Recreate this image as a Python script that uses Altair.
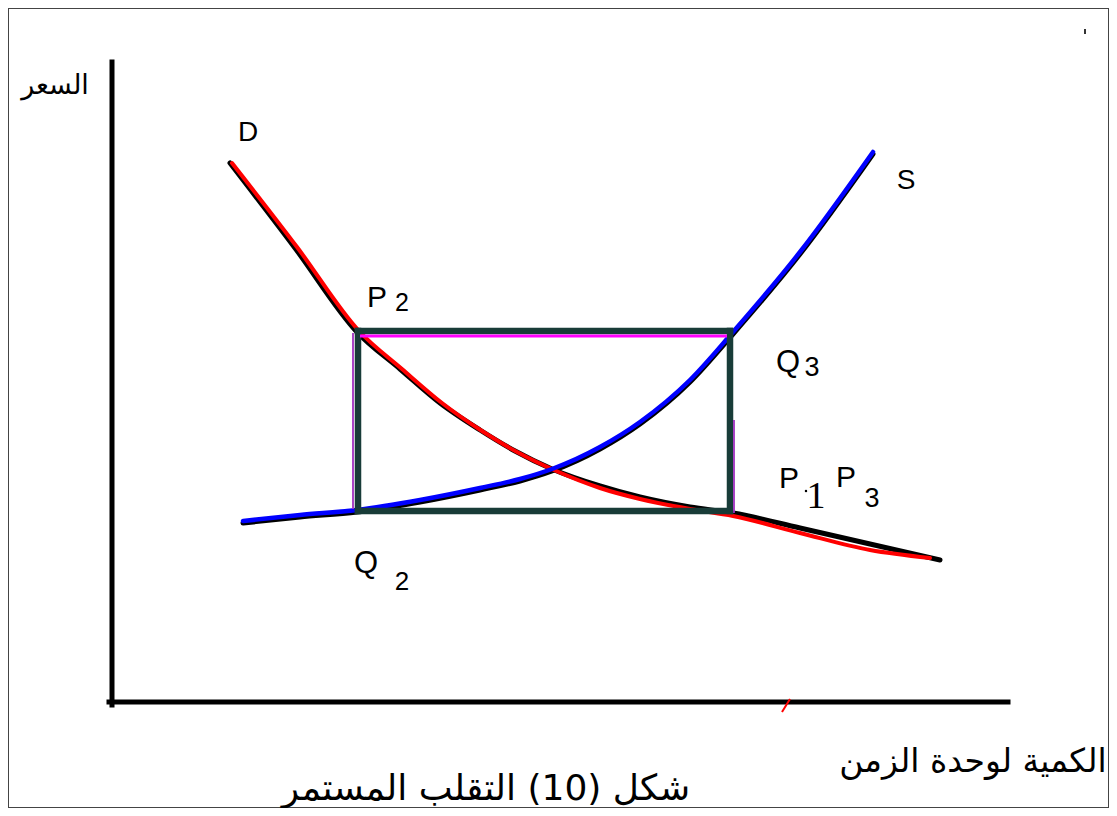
import altair as alt
import pandas as pd

# ---- data (quantity q, price p in diagram units) ----
d_black_q = [11.8, 18.3, 24.5, 28.8, 32.8, 36.8, 40.3, 44.0, 48.8, 52.8, 57.8, 62.1, 68.8, 75.8, 82.8]
d_black_p = [53.9, 45.4, 37.0, 33.3, 29.9, 27.2, 25.1, 23.3, 21.6, 20.5, 19.5, 18.9, 17.4, 15.8, 14.2]
d_red_q = [12.0, 18.5, 24.7, 29.0, 33.0, 37.0, 40.5, 44.2, 48.8, 52.8, 57.8, 62.1, 68.8, 75.8, 81.8]
d_red_p = [53.9, 45.5, 37.1, 33.3, 29.9, 27.1, 25.0, 23.2, 21.4, 20.3, 19.3, 18.6, 16.9, 15.2, 14.4]
s_q = [13.1, 18.8, 24.5, 30.8, 36.8, 40.8, 44.0, 48.8, 52.8, 57.8, 62.1, 68.8, 76.1]
s_p = [18.1, 18.7, 19.2, 20.2, 21.4, 22.3, 23.3, 25.5, 28.0, 32.2, 37.0, 45.0, 55.0]
s_black_p = [17.9, 18.5, 19.0, 20.0, 21.2, 22.1, 23.1, 25.3, 27.8, 32.0, 36.8, 44.8, 54.8]

rect_q = [24.6, 61.8]
rect_p = [19.1, 37.1]

axis_q_end = 89.6
axis_p_end = 64.0

XD = [-10.4, 99.7]
YD = [-10.6, 69.4]

xs = alt.Scale(domain=XD)
ys = alt.Scale(domain=YD)


def line(qs, ps, color, width):
    df = pd.DataFrame({"q": qs, "p": ps, "o": list(range(len(qs)))})
    return alt.Chart(df).mark_line(color=color, strokeWidth=width, strokeCap="round",
                                   interpolate="monotone").encode(
        x=alt.X("q:Q", scale=xs, axis=None),
        y=alt.Y("p:Q", scale=ys, axis=None),
        order="o:Q")


def segs(rows, color, width, cap="square"):
    df = pd.DataFrame(rows, columns=["q", "q2", "p", "p2"])
    return alt.Chart(df).mark_rule(color=color, strokeWidth=width, strokeCap=cap).encode(
        x=alt.X("q:Q", scale=xs, axis=None), x2="q2:Q",
        y=alt.Y("p:Q", scale=ys, axis=None), y2="p2:Q")


def label(q, p, text, size, font="Liberation Sans", color="black", baseline="middle"):
    df = pd.DataFrame({"q": [q], "p": [p], "t": [text]})
    return alt.Chart(df).mark_text(fontSize=size, font=font, color=color,
                                   align="center", baseline=baseline).encode(
        x=alt.X("q:Q", scale=xs, axis=None),
        y=alt.Y("p:Q", scale=ys, axis=None),
        text="t:N")


def dot(q, p, size):
    df = pd.DataFrame({"q": [q], "p": [p]})
    return alt.Chart(df).mark_circle(color="black", size=size, opacity=1).encode(
        x=alt.X("q:Q", scale=xs, axis=None),
        y=alt.Y("p:Q", scale=ys, axis=None))


axes = segs([[0, 0, -0.3, axis_p_end], [-0.3, axis_q_end, 0, 0]], "black", 5)
rect = segs([[rect_q[0], rect_q[1], rect_p[1], rect_p[1]],
             [rect_q[0], rect_q[1], rect_p[0], rect_p[0]],
             [rect_q[0], rect_q[0], rect_p[0], rect_p[1]],
             [rect_q[1], rect_q[1], rect_p[0], rect_p[1]]], "#183c38", 6.5)
magenta = segs([[24.8, 61.5, 36.6, 36.6]], "#ff00ff", 3, "butt")
purple = segs([[24.1, 24.1, 19.3, 36.9], [62.2, 62.2, 18.9, 28.2]], "#a030c0", 1.8, "butt")
stray = segs([[67.8, 67.0, 0.3, -1.0]], "red", 2, "butt")
speck = segs([[97.3, 97.3, 67.3, 66.8]], "#333", 2, "butt")

layers = [
    axes,
    line(d_black_q, d_black_p, "black", 5),
    line(s_q, s_black_p, "black", 5),
    line(d_red_q, d_red_p, "red", 4),
    line(s_q, s_p, "#0000ff", 4.5),
    rect, magenta, purple, stray, speck,
    label(13.6, 56.9, "D", 28),
    label(79.4, 52.1, "S", 28),
    label(26.5, 40.4, "P", 30),
    label(29.0, 39.9, "2", 25),
    label(67.6, 33.9, "Q", 31),
    label(70.0, 33.4, "3", 27),
    label(67.7, 22.3, "P", 30),
    dot(69.4, 21.1, 6),
    label(70.4, 20.5, "1", 38, "Liberation Serif"),
    label(73.4, 22.4, "P", 30),
    label(76.0, 20.3, "3", 27),
    label(25.4, 13.8, "Q", 31),
    label(29.0, 12.0, "2", 26),
    label(-5.7, 61.6, "السعر", 27, "DejaVu Sans"),
    label(86.1, -6.0, "الكمية لوحدة الزمن", 33, "DejaVu Sans"),
    label(37.4, -9.8, "شكل (10) التقلب المستمر", 36, "DejaVu Sans", baseline="alphabetic"),
]

chart = alt.layer(*layers).properties(
    width=1101, height=800,
    autosize=alt.AutoSizeParams(type="none"),
    padding=0,
    background="white",
).configure_view(stroke="#444", strokeWidth=2)

chart.save("out.html", embed_options={"renderer": "svg", "actions": False})
